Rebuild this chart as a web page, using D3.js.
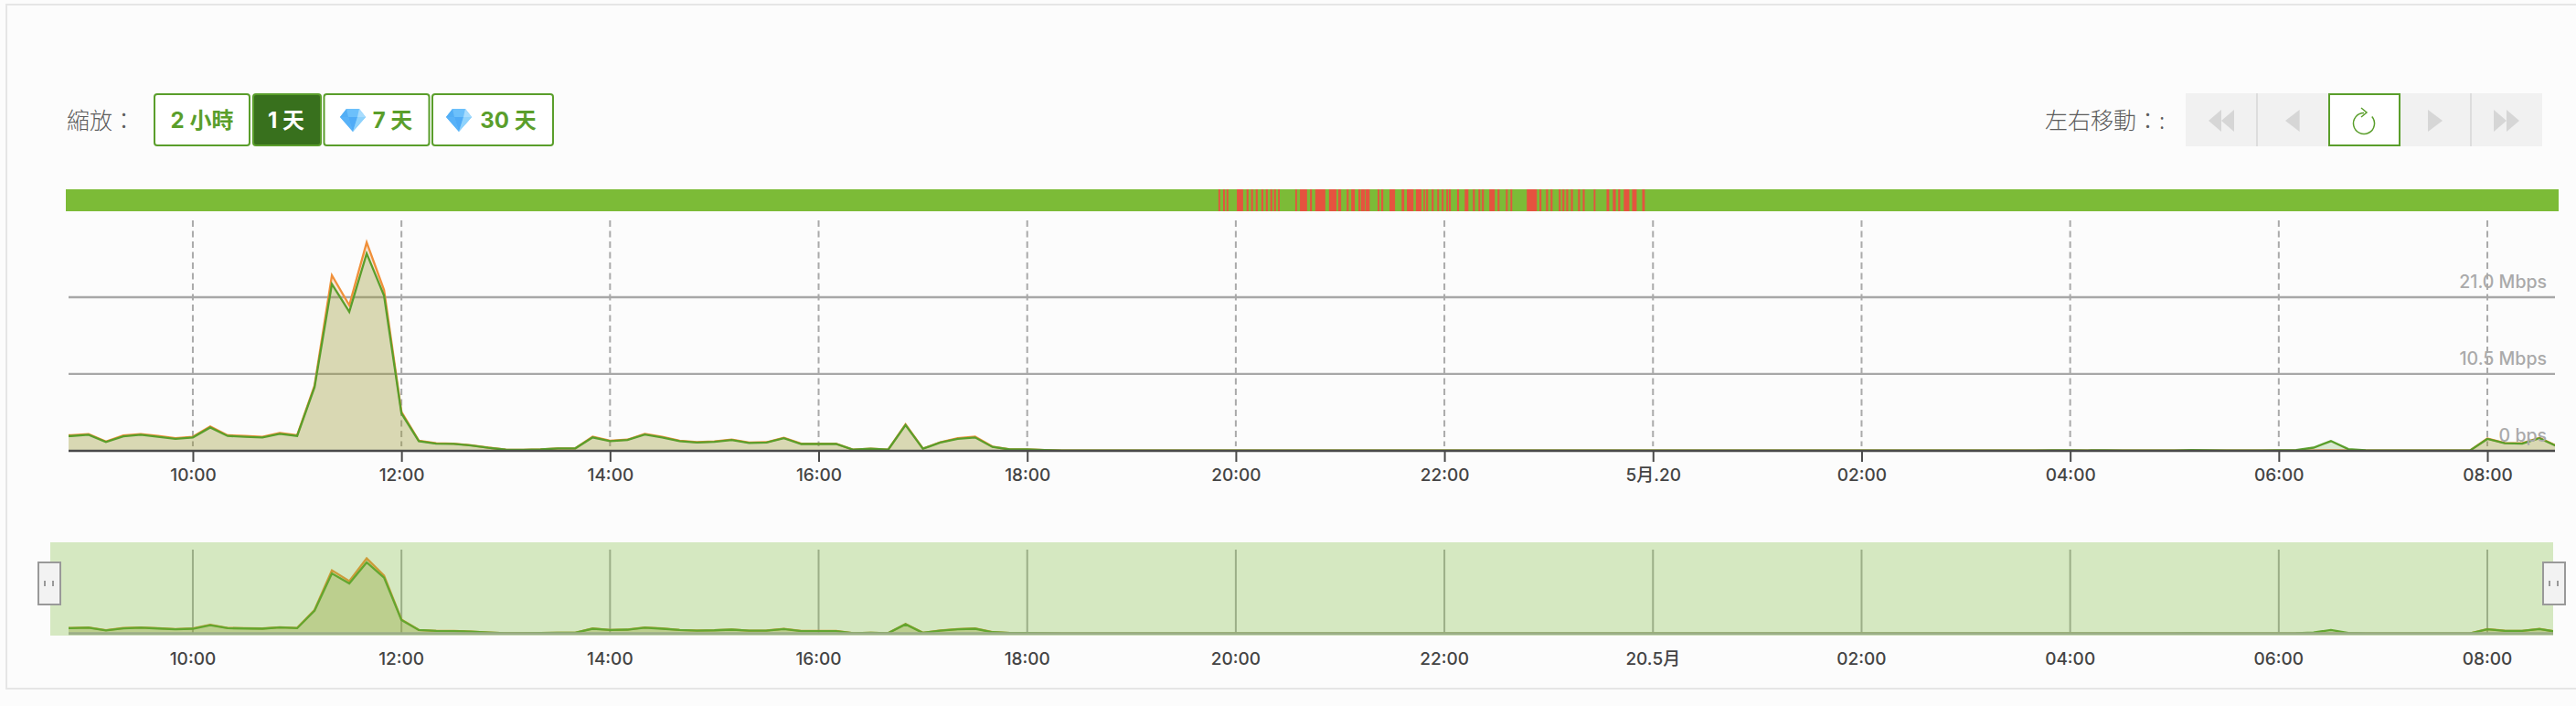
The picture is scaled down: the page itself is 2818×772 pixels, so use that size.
<!DOCTYPE html>
<html>
<head>
<meta charset="utf-8">
<script src="https://cdn.jsdelivr.net/npm/d3@7"></script>
<style>
html,body{margin:0;padding:0;background:#fcfcfc;overflow:hidden}
text{font-family:Inter,"Noto Sans CJK TC",sans-serif}
</style>
</head>
<body>
<svg id="c" width="2818" height="772"></svg>
<script>
// ---- data (Mbps, one value every 10 minutes from 08:40 on 19 May) ----
const startTime = "2021-05-19T08:40:00";
const stepMinutes = 10;
const downloadMbps = [
  2.0,2.0,
  2.17,1.17,1.96,2.17,1.9,1.6,
  1.8,3.17,2.0,1.9,1.8,2.3,
  2.0,8.67,22.8,19.0,27.0,21.2,
  5.1,1.3,.96,.92,.7,.38,
  .12,.1,.15,.3,.3,1.8,
  1.3,1.45,2.2,1.8,1.3,1.1,
  1.2,1.45,1.05,1.1,1.7,.9,
  .9,.9,.12,.25,.12,3.5,
  .25,1.1,1.6,1.8,.5,.15,
  .15,.08,0,0,0,0,
  0,0,0,0,0,0,
  0,0,0,0,0,0,
  0,0,0,0,0,0,
  0,0,0,0,0,0,
  0,0,0,0,0,0,
  0,0,0,0,0,0,
  0,0,0,0,0,0,
  0,0,0,0,0,0,
  0,0,0,0,.02,.03,
  .03,.02,.04,.02,0,0,
  0,.08,.03,0,.02,.02,
  .05,.08,.4,1.3,.2,.05,
  0,0,0,0,0,0,
  1.6,1.0,.95,1.7,.6
];
const uploadMbps = [
  2.1,2.1,
  2.27,1.25,2.06,2.27,2.0,1.7,
  1.9,3.3,2.1,2.0,1.9,2.4,
  2.1,8.9,24.0,19.9,28.5,22.0,
  5.3,1.35,1.0,.95,.72,.4,
  .12,.1,.15,.3,.3,1.9,
  1.35,1.5,2.3,1.9,1.35,1.15,
  1.25,1.5,1.1,1.15,1.75,.95,
  .95,.95,.12,.25,.12,3.6,
  .28,1.15,1.7,1.9,.55,.15,
  .15,.08,0,0,0,0,
  0,0,0,0,0,0,
  0,0,0,0,0,0,
  0,0,0,0,0,0,
  0,0,0,0,0,0,
  0,0,0,0,0,0,
  0,0,0,0,0,0,
  0,0,0,0,0,0,
  0,0,0,0,0,0,
  0,0,0,0,0,0,
  0,0,0,0,0,0,
  0,0,0,0,0,0,
  0,0,.02,.05,.02,0,
  0,0,0,0,0,0,
  1.65,1.05,1.0,1.75,.62
];
// red status stripes: minutes after 20:00, duration in minutes
const outageStart = [-10,-7.3,-5.3,.6,6.2,8.8,11.5,14.7,17.3,19.9,22,24.3,34.2,36.9,42.7,45.7,53.6,58.9,63.8,66.4,70.5,72,74.7,81.6,83.7,88.4,95.4,98.4,103.6,108,109.5,112.7,115.9,118.5,121.1,122.6,127.3,131.7,136.4,139.6,141.6,145.8,150.6,155.4,158,167.4,174.7,178.5,181.1,185.8,187.9,190.1,192.8,196.9,199.6,205.9,213.3,216.9,220,223.2,228,233.8];
const outageLength = [1,1,1,3.6,1.1,1.1,1.1,1.1,1.1,1.1,1.1,1,1,4.1,1.1,5.8,4.3,1.7,1.1,2.1,1.1,2.3,2.3,1,1.1,3.2,1.5,3.8,3.2,.8,1.1,1.1,1,1,1,1.1,1.1,2.1,1.1,1,1.1,3.2,1.1,1,1,5.8,1.1,1.1,1.1,1.1,1.1,1.1,1.1,1.1,1.1,1,1.5,1.7,1.1,3.2,2.6,1.5];
const tickTimes = ["2021-05-19T10:00","2021-05-19T12:00","2021-05-19T14:00","2021-05-19T16:00","2021-05-19T18:00","2021-05-19T20:00","2021-05-19T22:00","2021-05-20T00:00","2021-05-20T02:00","2021-05-20T04:00","2021-05-20T06:00","2021-05-20T08:00"];
const mainTickLabels = ["10:00","12:00","14:00","16:00","18:00","20:00","22:00","5月.20","02:00","04:00","06:00","08:00"];
const overviewTickLabels = ["10:00","12:00","14:00","16:00","18:00","20:00","22:00","20.5月","02:00","04:00","06:00","08:00"];
const yTicks = [0,10.5,21];
const yLabels = ["0 bps","10.5 Mbps","21.0 Mbps"];
const zoomLabels = ["2 小時","1 天","7 天","30 天"];

// ---- colours ----
const GREEN="#5a9e2b", DARK="#38701d", ORANGE="#f0903a", BAR="#7cbb37", RED="#e5533f";

const svg=d3.select("#c");
const t0=new Date(startTime).getTime();
const rows=downloadMbps.map((d,i)=>({t:new Date(t0+i*stepMinutes*60000),down:d,up:uploadMbps[i]}));
const ticks=tickTimes.map(s=>new Date(s));
const domain=[new Date("2021-05-19T08:48:30"),new Date("2021-05-20T08:38:54")];
const x=d3.scaleTime().domain(domain).range([75,2795]);
const xOver=x.copy();
const y=d3.scaleLinear().domain([0,21]).range([492.7,325]);
const yOver=d3.scaleLinear().domain([0,21]).range([692.7,632.2]);

// panel outline
svg.append("rect").attr("x",7).attr("y",5).attr("width",2830).attr("height",748).attr("fill","#fcfcfc").attr("stroke","#e6e6e6").attr("stroke-width",2);

const defs=svg.append("defs");
defs.append("clipPath").attr("id","clip").append("rect").attr("x",75).attr("y",230).attr("width",2720).attr("height",270);
defs.append("clipPath").attr("id","clip2").append("rect").attr("x",75).attr("y",593).attr("width",2718).attr("height",102);

// zoom controls
const label=(s,xx,anchor)=>svg.append("text").attr("x",xx).attr("y",141).attr("text-anchor",anchor||"start")
  .attr("font-size",25).attr("font-weight",300).attr("fill","#5c5c5c").style("font-family",'"Noto Sans CJK TC",sans-serif').text(s);
label("縮放：",73);
const btnX=[168,276,353.5,472], btnW=[106,76,117,134], txtX=[221,313,429.5,556];
zoomLabels.forEach((s,i)=>{
  const on=i===1;
  svg.append("rect").attr("x",btnX[i]+1).attr("y",103).attr("width",btnW[i]-2).attr("height",56).attr("rx",3)
    .attr("fill",on?DARK:"#fff").attr("stroke",GREEN).attr("stroke-width",2);
  svg.append("text").attr("x",txtX[i]).attr("y",140).attr("text-anchor","middle").attr("font-size",24).attr("font-weight",700)
    .attr("fill",on?"#fff":GREEN).text(s);
});
[386,502].forEach(cx=>{
  const g=svg.append("g").attr("transform",`translate(${cx},119)`);
  g.append("path").attr("d","M-7,0H7L14,9L0,25L-14,9Z").attr("fill","#6cc0fb");
  g.append("path").attr("d","M-14,9H-5L0,25Z").attr("fill","#58b2f8");
  g.append("path").attr("d","M-5,9H5L0,25Z").attr("fill","#4fabf7");
  g.append("path").attr("d","M5,9H14L0,25Z").attr("fill","#8ed2fc");
  g.append("path").attr("d","M-7,0L-14,9H-5Z").attr("fill","#52aef5");
  g.append("path").attr("d","M7,0L14,9H5Z").attr("fill","#a8dcfd");
});

// pan controls
label("左右移動：:",2237);
const panX=[2391,2469,2547.5,2625,2703], panW=78;
panX.forEach((px,i)=>{
  svg.append("rect").attr("x",px).attr("y",102).attr("width",panW).attr("height",58).attr("fill","#f1f1f1");
  if(i>0&&i!==2&&i!==3) svg.append("line").attr("x1",px).attr("x2",px).attr("y1",102).attr("y2",160).attr("stroke","#ddd").attr("stroke-width",2);
});
svg.append("rect").attr("x",2548).attr("y",103).attr("width",77).attr("height",56).attr("fill","#fff").attr("stroke",GREEN).attr("stroke-width",2);
const tri=(a,b)=>svg.append("path").attr("d",`M${a},120L${b},132L${a},144Z`).attr("fill","#d6d6d6");
tri(2430,2416);tri(2444,2430);tri(2515.6,2500);tri(2656,2672);tri(2728,2742);tri(2742,2756);
svg.append("path").attr("transform","translate(2586,135)")
  .attr("d",d3.arc().innerRadius(11.5).outerRadius(11.5)({startAngle:0.87,endAngle:2*Math.PI}))
  .attr("fill","none").attr("stroke",GREEN).attr("stroke-width",1.5);
svg.append("path").attr("d","M2583,118L2589,123L2583,128").attr("fill","none").attr("stroke",GREEN).attr("stroke-width",1.5);

// status bar
svg.append("rect").attr("x",72).attr("y",207).attr("width",2727).attr("height",24).attr("fill",BAR);
const t20=new Date("2021-05-19T20:00").getTime();
svg.append("g").selectAll("rect").data(outageStart).join("rect")
  .attr("x",d=>x(new Date(t20+d*60000))).attr("y",207)
  .attr("width",(d,i)=>x(new Date(t20+(d+outageLength[i])*60000))-x(new Date(t20+d*60000)))
  .attr("height",24).attr("fill",RED);

// main chart grid
svg.append("g").selectAll("line").data(ticks).join("line")
  .attr("x1",d=>x(d)).attr("x2",d=>x(d)).attr("y1",241).attr("y2",488)
  .attr("stroke","#aaa").attr("stroke-width",2).attr("stroke-dasharray","7 4.5");
svg.append("g").selectAll("line").data(yTicks.slice(1)).join("line")
  .attr("x1",75).attr("x2",2795).attr("y1",d=>y(d)).attr("y2",d=>y(d)).attr("stroke","#a8a8a8").attr("stroke-width",2.4);

function series(g,sx,sy,w){
  const area=k=>d3.area().x(d=>sx(d.t)).y0(sy(0)).y1(d=>sy(d[k]));
  const line=k=>d3.line().x(d=>sx(d.t)).y(d=>sy(d[k]));
  g.append("path").datum(rows).attr("d",area("up")).attr("fill",ORANGE).attr("fill-opacity",.2);
  g.append("path").datum(rows).attr("d",area("down")).attr("fill",GREEN).attr("fill-opacity",.2);
  g.append("path").datum(rows).attr("d",line("up")).attr("fill","none").attr("stroke",ORANGE).attr("stroke-width",w);
  g.append("path").datum(rows).attr("d",line("down")).attr("fill","none").attr("stroke",GREEN).attr("stroke-width",w);
}
series(svg.append("g").attr("clip-path","url(#clip)"),x,y,2.3);

// y labels
svg.append("g").selectAll("text").data(yTicks).join("text")
  .attr("x",2786).attr("y",d=>y(d)-10).attr("text-anchor","end").attr("font-size",19.5).attr("font-weight",500).attr("fill","#aaa")
  .text((d,i)=>yLabels[i]);

// main axis
const axis=d3.axisBottom(x).tickValues(ticks).tickSize(12).tickPadding(7.5).tickFormat((d,i)=>mainTickLabels[i]);
const ax=svg.append("g").attr("transform","translate(0,493)").call(axis);
ax.select(".domain").attr("d","M75,0H2795").attr("stroke","#4a4a4a").attr("stroke-width",2.6);
ax.selectAll(".tick line").attr("stroke","#4a4a4a").attr("stroke-width",2);
ax.selectAll(".tick text").attr("font-size",19).attr("font-weight",500).attr("fill","#444").attr("font-family",null);

// overview
svg.append("g").selectAll("line").data(ticks).join("line")
  .attr("x1",d=>xOver(d)).attr("x2",d=>xOver(d)).attr("y1",601).attr("y2",692)
  .attr("stroke","#aaa").attr("stroke-width",2);
series(svg.append("g").attr("clip-path","url(#clip2)"),xOver,yOver,2.3);
svg.append("line").attr("x1",75).attr("x2",2793).attr("y1",692.7).attr("y2",692.7).attr("stroke","#aaa").attr("stroke-width",3);
svg.append("rect").attr("x",55).attr("y",593).attr("width",2738).attr("height",102).attr("fill",BAR).attr("fill-opacity",.3);
svg.append("g").selectAll("text").data(ticks).join("text")
  .attr("x",d=>xOver(d)).attr("y",726.5).attr("text-anchor","middle").attr("font-size",19).attr("font-weight",500).attr("fill","#444")
  .text((d,i)=>overviewTickLabels[i]);
[[42,49,58],[2782,2789,2798]].forEach(([hx,g1,g2])=>{
  svg.append("rect").attr("x",hx).attr("y",615).attr("width",24).attr("height",46).attr("fill","#f2f2f2").attr("stroke","#999").attr("stroke-width",2);
  [g1,g2].forEach(gx=>svg.append("line").attr("x1",gx).attr("x2",gx).attr("y1",635).attr("y2",641).attr("stroke","#999").attr("stroke-width",2));
});
</script>
</body>
</html>
